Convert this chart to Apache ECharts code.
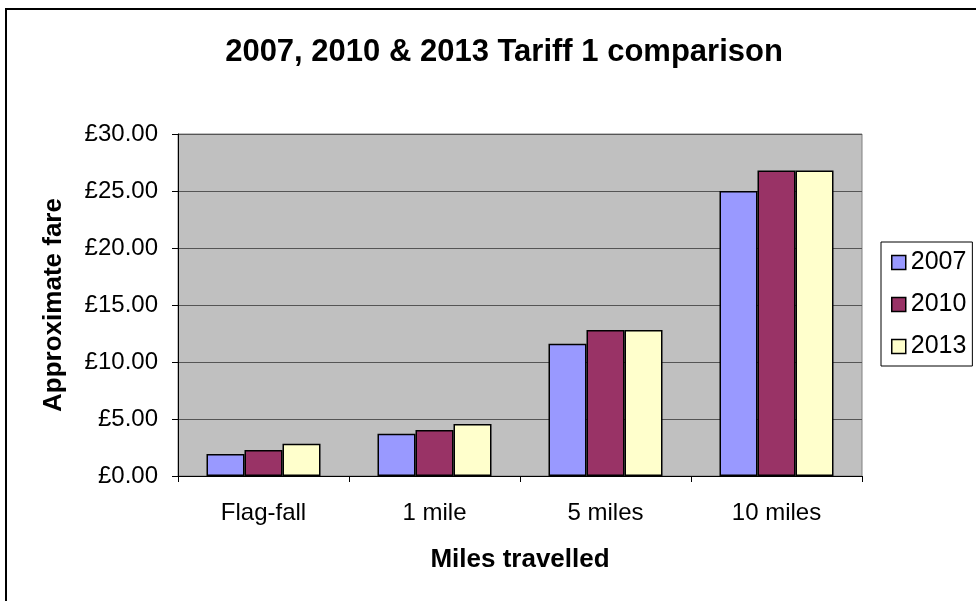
<!DOCTYPE html>
<html><head><meta charset="utf-8">
<script src="https://cdn.jsdelivr.net/npm/echarts@6/dist/echarts.min.js"></script>
<style>html,body{margin:0;padding:0;background:#fff}#c{width:976px;height:601px}</style>
</head><body><div id="c"></div>
<script>
const categories = ['Flag-fall', '1 mile', '5 miles', '10 miles'];
const v2007 = [1.93, 3.71, 11.6, 25.0];
const v2010 = [2.28, 4.04, 12.8, 26.8];
const v2013 = [2.83, 4.56, 12.8, 26.8];
const seriesNames = ['2007', '2010', '2013'];
const colors = ['#9999ff', '#993366', '#ffffcc'];
const F = 'Liberation Sans, Arial, sans-serif';
const chart = echarts.init(document.getElementById('c'));
const mk = (name, data, color) => ({
  name, type: 'bar', data, barWidth: 38, barGap: '0%',
  itemStyle: { color, borderColor: '#000', borderWidth: 1.5 }
});
chart.setOption({
  animation: false,
  graphic: [{ type: 'rect', shape: { x: 6, y: 9, width: 990, height: 620 }, style: { fill: 'none', stroke: '#000', lineWidth: 2 }, silent: true }],
  title: { text: '2007, 2010 & 2013 Tariff 1 comparison', left: 499, top: 32, textAlign: 'center',
    textStyle: { fontFamily: F, fontSize: 31, fontWeight: 'bold', color: '#000' } },
  legend: { orient: 'vertical', left: 881, top: 242, itemWidth: 14, itemHeight: 14, itemGap: 17,
    padding: [8, 6, 7, 10], borderColor: '#000', borderWidth: 1, icon: 'rect',
    textStyle: { fontFamily: F, fontSize: 25, color: '#000' },
    itemStyle: { borderColor: '#000', borderWidth: 1.5 }, data: seriesNames },
  grid: { left: 178, top: 134, width: 684, height: 342, backgroundColor: '#c0c0c0', show: true, borderColor: '#808080', borderWidth: 1 },
  xAxis: { type: 'category', data: categories, name: 'Miles travelled', nameLocation: 'middle', nameGap: 71,
    nameTextStyle: { fontFamily: F, fontSize: 26, fontWeight: 'bold', color: '#000' },
    axisLine: { lineStyle: { color: '#000', width: 1 } },
    axisTick: { show: true, length: 6, lineStyle: { color: '#000' } },
    axisLabel: { fontFamily: F, fontSize: 24, color: '#000', margin: 25 } },
  yAxis: { type: 'value', min: 0, max: 30, interval: 5, name: 'Approximate fare', nameLocation: 'middle', nameGap: 111,
    nameTextStyle: { fontFamily: F, fontSize: 26, fontWeight: 'bold', color: '#000' },
    axisLine: { show: true, lineStyle: { color: '#000' } },
    axisTick: { show: true, length: 6, lineStyle: { color: '#000' } },
    splitLine: { lineStyle: { color: '#555', width: 1 } },
    axisLabel: { fontFamily: F, fontSize: 24, color: '#000', margin: 20, formatter: v => '£' + v.toFixed(2) } },
  series: [mk(seriesNames[0], v2007, colors[0]), mk(seriesNames[1], v2010, colors[1]), mk(seriesNames[2], v2013, colors[2])]
});
</script></body></html>
